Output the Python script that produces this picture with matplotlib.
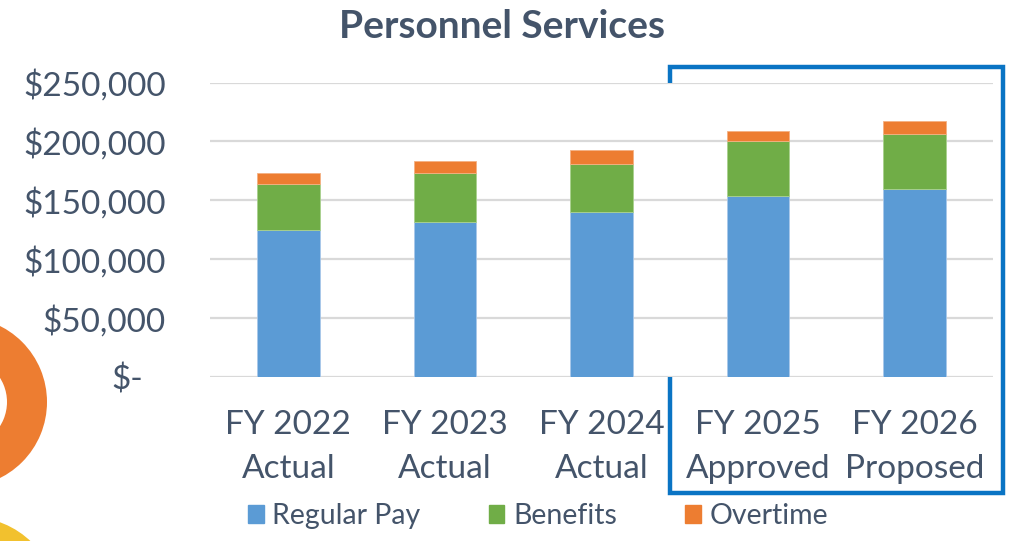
import matplotlib
matplotlib.use("Agg")
import matplotlib.pyplot as plt
from matplotlib.patches import Rectangle, Wedge, Circle, Patch
import numpy as np

# Daten
categories = ["FY 2022\nActual", "FY 2023\nActual", "FY 2024\nActual",
              "FY 2025\nApproved", "FY 2026\nProposed"]
regular_pay = [125000, 132000, 140000, 153500, 159500]
benefits = [39000, 41000, 41000, 46500, 46500]
overtime = [9000, 10000, 12000, 9000, 11500]
y_ticks = [0, 50000, 100000, 150000, 200000, 250000]
y_tick_labels = ["$-", "$50,000", "$100,000", "$150,000", "$200,000", "$250,000"]

TEXT = "#44546A"
BLUE = "#5B9BD5"
GREEN = "#70AD47"
ORANGE = "#ED7D31"

plt.rcParams["font.family"] = ["Lato", "DejaVu Sans"]

fig = plt.figure(figsize=(10.12, 5.41), dpi=100)

# Hintergrund-Deko (Folienelemente links)
bg = fig.add_axes([0, 0, 1, 1], zorder=-1)
bg.set_xlim(0, 1012)
bg.set_ylim(541, 0)
bg.axis("off")
bg.add_patch(Wedge((-38, 402), 85, 0, 360, width=40, color=ORANGE, lw=0))
bg.add_patch(Circle((-30, 605), 88, color="#F2C12E", lw=0))

ax = fig.add_axes([210 / 1012, 1 - 377 / 541, 783 / 1012, 294.5 / 541])
x = np.arange(len(categories))
w = 0.4
b1 = np.array(regular_pay)
b2 = b1 + np.array(benefits)
ax.bar(x, regular_pay, w, color=BLUE, edgecolor="#A9C8EA", lw=0.6, zorder=3, label="Regular Pay")
ax.bar(x, benefits, w, bottom=b1, color=GREEN, edgecolor="#A9D18E", lw=0.6, zorder=3, label="Benefits")
ax.bar(x, overtime, w, bottom=b2, color=ORANGE, edgecolor="#F4B183", lw=0.6, zorder=3, label="Overtime")

ax.set_xlim(-0.5, len(categories) - 0.5)
ax.set_ylim(0, 250000)
ax.set_yticks(y_ticks)
ax.set_yticklabels(y_tick_labels)
ax.set_xticks(x)
ax.set_xticklabels(categories, linespacing=1.55)
ax.tick_params(axis="y", length=0, pad=32, labelsize=24, labelcolor=TEXT)
ax.tick_params(axis="x", length=0, pad=24, labelsize=24, labelcolor=TEXT)
# "$-" sitzt im Original etwas weiter links (Buchhaltungsformat)
for lab in ax.get_yticklabels():
    if lab.get_text() == "$-":
        lab.set_x(-22 / 783)
ax.yaxis.grid(True, color="#D9D9D9", lw=1.6, zorder=0)
for s in ax.spines.values():
    s.set_visible(False)

fig.text(502 / 1012, 1 - 27 / 541, "Personnel Services", ha="center", va="center",
         fontsize=28, fontweight="bold", color=TEXT)

# Rahmen um FY 2025 / FY 2026
bg.add_patch(Rectangle((670, 67), 333, 426, fill=False, edgecolor="#0A74C4", lw=3.2))

handles = [Patch(color=BLUE), Patch(color=GREEN), Patch(color=ORANGE)]
leg = fig.legend(handles, ["Regular Pay", "Benefits", "Overtime"], loc="center",
                 bbox_to_anchor=(538 / 1012, 1 - 516 / 541), ncol=3, frameon=False,
                 fontsize=20.5, handlelength=0.55, handleheight=0.55, handletextpad=0.3,
                 columnspacing=2.4)
for t in leg.get_texts():
    t.set_color(TEXT)

fig.savefig("out.png", dpi=100)
